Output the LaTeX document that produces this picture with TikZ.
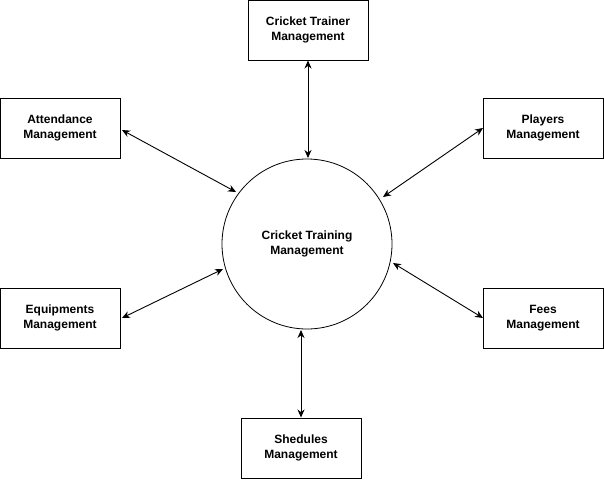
\documentclass[tikz,border=0pt]{standalone}
\usepackage{fontspec}
\setmainfont{Liberation Sans}
\usetikzlibrary{arrows.meta}
\begin{document}
\begin{tikzpicture}[x=1pt,y=-1pt,
  box/.style={draw,line width=1pt,minimum width=120pt,minimum height=60pt,inner sep=0pt,align=center,font=\fontsize{12}{15}\selectfont\bfseries},
  hub/.style={draw,line width=0.8pt,circle,minimum size=170pt,inner sep=0pt,align=center,font=\fontsize{12}{15}\selectfont\bfseries},
  link/.style={line width=0.9pt,{Stealth[length=8pt,width=7pt]}-{Stealth[length=8pt,width=7pt]}}]
\useasboundingbox (0,0) rectangle (604,479);
\node[box] (trainer) at (308,30) {Cricket Trainer\\Management};
\node[box] (att) at (60,128) {Attendance\\Management};
\node[box] (players) at (543,128) {Players\\Management};
\node[box] (equip) at (60,318) {Equipments\\Management};
\node[box] (fees) at (543,318) {Fees\\Management};
\node[box] (shed) at (301,448) {Shedules\\Management};
\node[hub] (hub) at (307,244) {Cricket Training\\Management};
\coordinate (a1) at (122,130);
\coordinate (a2) at (236,192);
\coordinate (p1) at (483,128);
\coordinate (p2) at (383,197);
\coordinate (e1) at (122,318);
\coordinate (e2) at (223,269);
\coordinate (f1) at (483,318);
\coordinate (f2) at (393,263);
\draw[link] (trainer.south -| 308,0) -- (308,158);
\draw[link] (a1) -- (a2);
\draw[link] (p1) -- (p2);
\draw[link] (e1) -- (e2);
\draw[link] (f1) -- (f2);
\draw[link] (shed.north) -- (301,330);
\end{tikzpicture}
\end{document}
